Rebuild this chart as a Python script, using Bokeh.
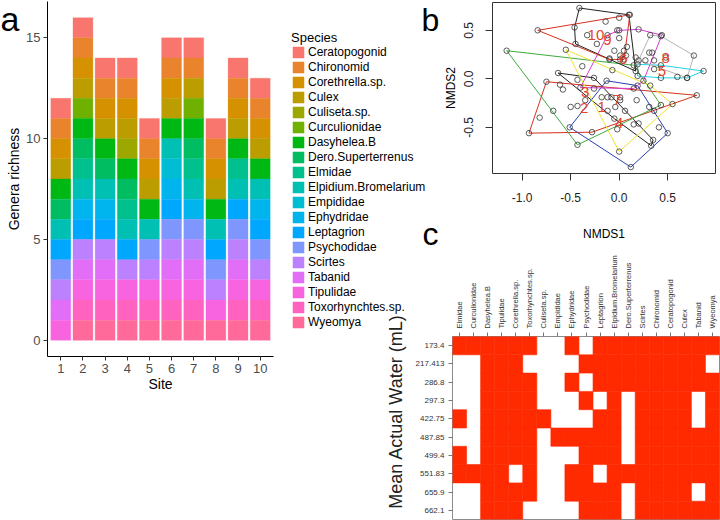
import math
from bokeh.plotting import figure
from bokeh.layouts import column
from bokeh.models import (Legend, LegendItem, FixedTicker, PrintfTickFormatter,
                          GridBox, Range1d, FactorRange)
from bokeh.embed import file_html
from bokeh.resources import INLINE
from bokeh.core.properties import value

FONT = "Liberation Sans"

# ---------------- panel a data ----------------
species = ["Ceratopogonid", "Chironomid", "Corethrella.sp.", "Culex", "Culiseta.sp.",
           "Curculionidae", "Dasyhelea.B", "Dero.Superterrenus", "Elmidae",
           "Elpidium.Bromelarium", "Empididae", "Ephydridae", "Leptagrion",
           "Psychodidae", "Scirtes", "Tabanid", "Tipulidae", "Toxorhynchtes.sp.", "Wyeomya"]
sites = [1, 2, 3, 4, 5, 6, 7, 8, 9, 10]
site_taxa = [
    ["Ceratopogonid", "Chironomid", "Corethrella.sp.", "Culex", "Dasyhelea.B", "Dero.Superterrenus",
     "Elpidium.Bromelarium", "Leptagrion", "Psychodidae", "Scirtes", "Tabanid", "Tipulidae"],
    ["Ceratopogonid", "Chironomid", "Corethrella.sp.", "Culex", "Curculionidae", "Dasyhelea.B",
     "Dero.Superterrenus", "Elmidae", "Elpidium.Bromelarium", "Ephydridae", "Leptagrion", "Scirtes",
     "Tabanid", "Tipulidae", "Toxorhynchtes.sp.", "Wyeomya"],
    ["Ceratopogonid", "Chironomid", "Corethrella.sp.", "Culex", "Dasyhelea.B", "Dero.Superterrenus",
     "Elpidium.Bromelarium", "Ephydridae", "Leptagrion", "Scirtes", "Tabanid", "Tipulidae",
     "Toxorhynchtes.sp.", "Wyeomya"],
    ["Ceratopogonid", "Chironomid", "Corethrella.sp.", "Culex", "Culiseta.sp.", "Dasyhelea.B",
     "Dero.Superterrenus", "Elmidae", "Elpidium.Bromelarium", "Leptagrion", "Scirtes", "Tipulidae",
     "Toxorhynchtes.sp.", "Wyeomya"],
    ["Ceratopogonid", "Chironomid", "Corethrella.sp.", "Culex", "Dasyhelea.B", "Elpidium.Bromelarium",
     "Psychodidae", "Scirtes", "Tipulidae", "Toxorhynchtes.sp.", "Wyeomya"],
    ["Ceratopogonid", "Chironomid", "Corethrella.sp.", "Culex", "Dasyhelea.B", "Elpidium.Bromelarium",
     "Empididae", "Ephydridae", "Leptagrion", "Psychodidae", "Scirtes", "Tabanid", "Tipulidae",
     "Toxorhynchtes.sp.", "Wyeomya"],
    ["Ceratopogonid", "Chironomid", "Culex", "Curculionidae", "Dasyhelea.B", "Dero.Superterrenus",
     "Elmidae", "Elpidium.Bromelarium", "Ephydridae", "Psychodidae", "Scirtes", "Tabanid", "Tipulidae",
     "Toxorhynchtes.sp.", "Wyeomya"],
    ["Ceratopogonid", "Chironomid", "Corethrella.sp.", "Culex", "Dasyhelea.B", "Elpidium.Bromelarium",
     "Leptagrion", "Psychodidae", "Scirtes", "Tipulidae", "Wyeomya"],
    ["Ceratopogonid", "Chironomid", "Corethrella.sp.", "Culex", "Dasyhelea.B", "Elmidae",
     "Elpidium.Bromelarium", "Leptagrion", "Psychodidae", "Scirtes", "Tabanid", "Tipulidae",
     "Toxorhynchtes.sp.", "Wyeomya"],
    ["Ceratopogonid", "Chironomid", "Corethrella.sp.", "Culex", "Dasyhelea.B", "Elpidium.Bromelarium",
     "Ephydridae", "Leptagrion", "Psychodidae", "Scirtes", "Tipulidae", "Toxorhynchtes.sp.", "Wyeomya"],
]
richness_ticks = [0, 5, 10, 15]

# ---------------- panel b data (NMDS scores per site) ----------------
nmds_x = [
    [-0.63, -0.26, 0.35, 0.33, -0.43, -0.18, -0.05, 0.15, -0.12],
    [-0.75, 0.80, -0.28, -0.93, -0.61, -0.58, -0.82, -0.68, -0.43, -0.35],
    [-1.16, 0.15, 0.43, -0.43, -0.38, -0.07, -0.26, 0.01, -0.50],
    [-0.13, 0.19, 0.50, 0.12, -0.51, 0.06, 0.20, 0.41, -0.12, -0.02, 0.31],
    [0.19, 0.43, 0.87, 0.70, 0.43, 0.19, 0.36, 0.60],
    [0.00, 0.20, 0.44, 0.25, 0.15, -0.40, -0.12, 0.05, 0.01, 0.07, 0.17, -0.10],
    [-0.55, 0.32, 0.55, 0.00, -0.08, 0.01, -0.04, 0.18, 0.36],
    [0.32, 0.43, 0.77, 0.70, 0.20, 0.31, 0.34, 0.27, 0.36, 0.48],
    [-0.41, 0.10, 0.17, -0.45, -0.46, 0.00, 0.00, -0.23, 0.01, 0.08],
    [-0.84, 0.11, 0.05, -0.10, -0.14, -0.33, -0.02, -0.05],
]
nmds_y = [
    [0.06, 0.01, -0.63, -0.69, -0.01, -0.19, -0.41, -0.47, -0.33],
    [-0.03, -0.17, -0.55, -0.56, -0.06, -0.11, -0.40, -0.33, -0.28, -0.22],
    [0.29, 0.14, -0.27, -0.68, 0.13, 0.09, -0.10, -0.22, -0.29],
    [-0.02, -0.07, -0.56, -0.91, -0.50, -0.33, -0.46, -0.50, -0.19, -0.52, -0.29],
    [0.15, 0.14, 0.08, 0.01, 0.01, 0.03, 0.10, 0.02],
    [0.50, 0.51, 0.45, -0.02, -0.10, -0.09, 0.45, 0.29, 0.20, 0.24, 0.22, 0.21],
    [0.30, -0.07, -0.26, -0.75, -0.19, -0.19, -0.29, -0.22, -0.33],
    [0.45, 0.44, 0.24, 0.01, 0.19, 0.27, 0.27, 0.19, 0.19, 0.22],
    [0.73, 0.66, 0.08, 0.36, 0.53, 0.63, 0.42, 0.36, 0.24, 0.33],
    [0.50, 0.66, 0.20, 0.20, 0.59, 0.45, 0.50, 0.29],
]
centroid_x = [-0.18, -0.36, -0.35, 0.00, 0.44, 0.04, -0.02, 0.48, -0.12, -0.24]
centroid_y = [-0.29, -0.30, -0.14, -0.46, 0.08, 0.20, -0.22, 0.21, 0.40, 0.45]
site_labels = ["1", "2", "3", "4", "5", "6", "7", "8", "9", "10"]
nmds1_ticks = [-1.0, -0.5, 0.0, 0.5]
nmds2_ticks = [-0.5, 0.0, 0.5]

# ---------------- panel c data ----------------
hm_taxa = ["Elmidae", "Curculionidae", "Dasyhelea.B", "Tipulidae", "Corethrella.sp.",
           "Toxorhynchtes.sp.", "Culiseta.sp.", "Empididae", "Ephydridae", "Psychodidae",
           "Leptagrion", "Elpidium.Bromelarium", "Dero.Superterrenus", "Scirtes", "Chironomid",
           "Ceratopogonid", "Culex", "Tabanid", "Wyeomya"]
water = ["173.4", "217.413", "286.8", "297.3", "422.75", "487.85", "499.4", "551.83", "655.9", "662.1"]
presence = [
    [1, 1, 1, 1, 1, 1, 0, 0, 1, 0, 1, 1, 1, 1, 1, 1, 1, 1, 1],
    [0, 0, 1, 1, 1, 0, 0, 0, 0, 1, 1, 1, 1, 1, 1, 1, 1, 1, 0],
    [0, 0, 1, 1, 1, 1, 0, 0, 1, 0, 1, 1, 1, 1, 1, 1, 1, 1, 1],
    [0, 0, 1, 1, 1, 1, 0, 0, 0, 1, 0, 1, 0, 1, 1, 1, 1, 0, 1],
    [1, 0, 1, 1, 1, 1, 1, 0, 0, 0, 1, 1, 0, 1, 1, 1, 1, 0, 1],
    [0, 0, 1, 1, 1, 1, 0, 1, 1, 1, 1, 1, 0, 1, 1, 1, 1, 1, 1],
    [1, 0, 1, 1, 1, 1, 0, 0, 0, 1, 1, 1, 0, 1, 1, 1, 1, 1, 1],
    [1, 1, 1, 1, 0, 1, 0, 0, 1, 1, 0, 1, 1, 1, 1, 1, 1, 1, 1],
    [0, 0, 1, 1, 1, 1, 0, 0, 1, 1, 1, 1, 0, 1, 1, 1, 1, 0, 1],
    [0, 0, 1, 1, 1, 0, 0, 0, 0, 1, 1, 1, 0, 1, 1, 1, 1, 1, 1],
]


# ---------------- helpers ----------------
def hcl_hex(h, c=100.0, l=65.0):
    Xn, Yn, Zn = 95.047, 100.0, 108.883
    un = 4 * Xn / (Xn + 15 * Yn + 3 * Zn)
    vn = 9 * Yn / (Xn + 15 * Yn + 3 * Zn)
    U = c * math.cos(math.radians(h))
    V = c * math.sin(math.radians(h))
    Y = Yn * ((l + 16) / 116) ** 3
    u = U / (13 * l) + un
    v = V / (13 * l) + vn
    X = 9.0 * Y * u / (4 * v)
    Z = -X / 3 - 5 * Y + 3 * Y / v
    X, Y, Z = X / 100, Y / 100, Z / 100
    rgb = [3.240479 * X - 1.537150 * Y - 0.498535 * Z,
           -0.969256 * X + 1.875992 * Y + 0.041556 * Z,
           0.055648 * X - 0.204043 * Y + 1.057311 * Z]
    out = []
    for ch in rgb:
        ch = 12.92 * ch if ch <= 0.0031308 else 1.055 * ch ** (1 / 2.4) - 0.055
        out.append(int(round(min(max(ch, 0), 1) * 255)))
    return "#%02X%02X%02X" % tuple(out)


def convex_hull(pts):
    pts = sorted(set(pts))
    if len(pts) <= 2:
        return pts

    def cross(o, a, b):
        return (a[0] - o[0]) * (b[1] - o[1]) - (a[1] - o[1]) * (b[0] - o[0])
    lower, upper = [], []
    for p in pts:
        while len(lower) >= 2 and cross(lower[-2], lower[-1], p) <= 0:
            lower.pop()
        lower.append(p)
    for p in reversed(pts):
        while len(upper) >= 2 and cross(upper[-2], upper[-1], p) <= 0:
            upper.pop()
        upper.append(p)
    return lower[:-1] + upper[:-1]


def style_axis(ax, size, color, title_size):
    ax.major_label_text_font = FONT
    ax.major_label_text_font_size = size
    ax.major_label_text_color = color
    ax.axis_label_text_font = FONT
    ax.axis_label_text_font_size = title_size
    ax.axis_label_text_font_style = "normal"
    ax.axis_label_text_color = "black"
    ax.minor_tick_line_color = None


def blank_fig(w, h, xr=None, yr=None):
    f = figure(width=w, height=h,
               x_range=xr if xr is not None else Range1d(0, w),
               y_range=yr if yr is not None else Range1d(0, h),
               x_axis_type=None, y_axis_type=None, output_backend="svg", toolbar_location=None,
               min_border_left=0, min_border_right=0, min_border_top=0, min_border_bottom=0)
    f.outline_line_color = None
    f.background_fill_color = None
    f.border_fill_color = None
    return f


def text_fig(w, h, tx, ty, txt, size, angle=0.0, align="left", baseline="alphabetic", color="black"):
    f = blank_fig(w, h)
    f.text(x=[tx], y=[ty], text=[txt], angle=angle, text_font=value(FONT),
           text_font_size=size, text_align=align, text_baseline=baseline, text_color=color)
    return f


n = len(species)
hues = [15 + i * 360.0 / n for i in range(n)]
palette = [hcl_hex(h) for h in hues]

# ================= panel a =================
pa = figure(width=290, height=520, x_range=Range1d(0.4, 10.6), y_range=Range1d(-0.8, 16.8),
            output_backend="svg", toolbar_location=None,
            min_border_left=47, min_border_right=17, min_border_top=1, min_border_bottom=164)
pa.border_fill_color = "white"
pa.background_fill_color = "white"
pa.outline_line_color = None
pa.xgrid.visible = False
pa.ygrid.visible = False

# legend figure: same bars, kept outside its visible range, so only the legend keys show
fl = blank_fig(135, 312, xr=Range1d(100, 200), yr=Range1d(100, 200))
items = []
for k, sp in enumerate(species):
    xs, bots, tops = [], [], []
    for s, taxa in zip(sites, site_taxa):
        if sp in taxa:
            below = sum(1 for t in taxa if species.index(t) > k)
            xs.append(s)
            bots.append(below)
            tops.append(below + 1)
    pa.vbar(x=xs, bottom=bots, top=tops, width=0.9, fill_color=palette[k],
            line_color=palette[k], line_width=0.3)
    key = fl.vbar(x=xs, bottom=bots, top=tops, width=0.9, fill_color=palette[k],
                  line_color=palette[k], line_width=0.3)
    items.append(LegendItem(label=sp, renderers=[key]))

leg = Legend(items=items, location=(1, 3), title="Species",
             glyph_width=14, glyph_height=14, label_height=14, spacing=1,
             padding=0, margin=0, label_standoff=3,
             label_text_font=FONT, label_text_font_size="12px", label_text_color="black",
             title_text_font=FONT, title_text_font_size="13px", title_text_font_style="normal",
             title_text_color="black",
             title_standoff=0, border_line_color=None, background_fill_alpha=0)
fl.add_layout(leg, "center")

pa.xaxis.ticker = FixedTicker(ticks=sites)
pa.yaxis.ticker = FixedTicker(ticks=richness_ticks)
pa.xaxis.axis_label = "Site"
pa.yaxis.axis_label = "Genera richness"
for ax in (pa.xaxis, pa.yaxis):
    style_axis(ax, "13px", "#4D4D4D", "14px")
    ax.axis_line_color = "black"
    ax.axis_line_width = 1
    ax.major_tick_line_color = "#333333"
    ax.major_tick_out = 4
    ax.major_tick_in = 0
    ax.major_label_standoff = 3
pa.xaxis.axis_label_standoff = 0
pa.yaxis.axis_label_standoff = 1

# ================= panel b =================
pb = figure(width=340, height=250, x_range=Range1d(-1.306, 0.993), y_range=Range1d(-0.976, 0.787),
            output_backend="svg", toolbar_location=None,
            min_border_left=112, min_border_right=5, min_border_top=2, min_border_bottom=77)
pb.border_fill_color = None
pb.background_fill_color = "white"
pb.outline_line_color = "#333333"
pb.outline_line_width = 1
pb.xgrid.visible = False
pb.ygrid.visible = False

hull_cols = ["#222222", "#D7301F", "#3DAA3D", "#2B3FB3", "#22D3E6",
             "#D63AD6", "#F0E530", "#B5B5B5", "#222222", "#D7301F"]
for i in range(len(sites)):
    hull = convex_hull(list(zip(nmds_x[i], nmds_y[i])))
    pb.patch([p[0] for p in hull], [p[1] for p in hull], fill_color=None,
             line_color=hull_cols[i], line_width=1)
for i in range(len(sites)):
    pb.scatter(nmds_x[i], nmds_y[i], marker="circle", size=5.5, fill_color=None,
               line_color="#333333", line_width=0.8)
pb.text(x=centroid_x, y=centroid_y, text=site_labels, text_color="#E4432B",
        text_font=value(FONT), text_font_size="15px", text_align="center",
        text_baseline="middle")

pb.xaxis.ticker = FixedTicker(ticks=nmds1_ticks)
pb.yaxis.ticker = FixedTicker(ticks=nmds2_ticks)
pb.xaxis.formatter = PrintfTickFormatter(format="%.1f")
pb.yaxis.formatter = PrintfTickFormatter(format="%.1f")
pb.xaxis.axis_label = "NMDS1"
pb.yaxis.axis_label = "NMDS2"
pb.yaxis.major_label_orientation = "vertical"
for ax in (pb.xaxis, pb.yaxis):
    style_axis(ax, "12px", "#222222", "12px")
    ax.axis_line_color = None
    ax.major_tick_line_color = "#333333"
    ax.major_tick_out = 7
    ax.major_tick_in = 0
pb.xaxis.major_label_standoff = 12
pb.xaxis.axis_label_standoff = 22
pb.yaxis.major_label_standoff = 12
pb.yaxis.axis_label_standoff = 4

# ================= panel c =================
pc = figure(width=340, height=270, x_range=FactorRange(*hm_taxa),
            y_range=FactorRange(*reversed(water)), x_axis_location="above",
            output_backend="svg", toolbar_location=None,
            min_border_left=72, min_border_right=1, min_border_top=86, min_border_bottom=1)
pc.border_fill_color = None
pc.background_fill_color = "white"
pc.outline_line_color = "#8C8C8C"
pc.outline_line_width = 1
pc.xgrid.visible = False
pc.ygrid.visible = False

RED = "#FF2A00"
cx, cy = [], []
for r_i, w in enumerate(water):
    for c_i, t in enumerate(hm_taxa):
        if presence[r_i][c_i]:
            cx.append(t)
            cy.append(w)
pc.rect(x=cx, y=cy, width=1, height=1, fill_color=RED, line_color=RED, line_width=0.6)

pc.xaxis.major_label_orientation = "vertical"
style_axis(pc.xaxis, "7.5px", "#333333", "12px")
style_axis(pc.yaxis, "8px", "#333333", "12px")
for ax in (pc.xaxis, pc.yaxis):
    ax.axis_line_color = None
    ax.major_tick_line_color = "#777777"
    ax.major_tick_out = 4
    ax.major_tick_in = 0
    ax.major_label_standoff = 4

# ================= panel letters and the long y title of panel c =================
fa = text_fig(30, 40, 0, 22, "a", "34px")
fb = text_fig(34, 40, 3, 21, "b", "32px")
fc = text_fig(34, 44, 4, 25, "c", "32px")
fw = text_fig(32, 214, 15, 109, "Mean Actual Water (mL)", "18px", angle=math.pi / 2,
              align="center", baseline="middle", color="#222222")

# grid tracks (px): columns 0|30|290|380|412|418|425|452|720
#                   rows    0|20|40|214|250|258|306|332|520
grid = GridBox(children=[(column(pa), 0, 0, 8, 2),
                         (column(pb), 0, 3, 4, 5),
                         (column(pc), 4, 3, 4, 5),
                         (column(fl), 1, 2, 6, 4),
                         (column(fa), 0, 0, 2, 1),
                         (column(fb), 0, 5, 2, 2),
                         (column(fc), 3, 5, 2, 2),
                         (column(fw), 6, 3, 2, 1)],
               cols=["30px", "260px", "90px", "32px", "6px", "7px", "27px", "268px"],
               rows=["20px", "20px", "174px", "36px", "8px", "48px", "26px", "188px"])

open("out.html", "w").write(file_html(grid, INLINE))
